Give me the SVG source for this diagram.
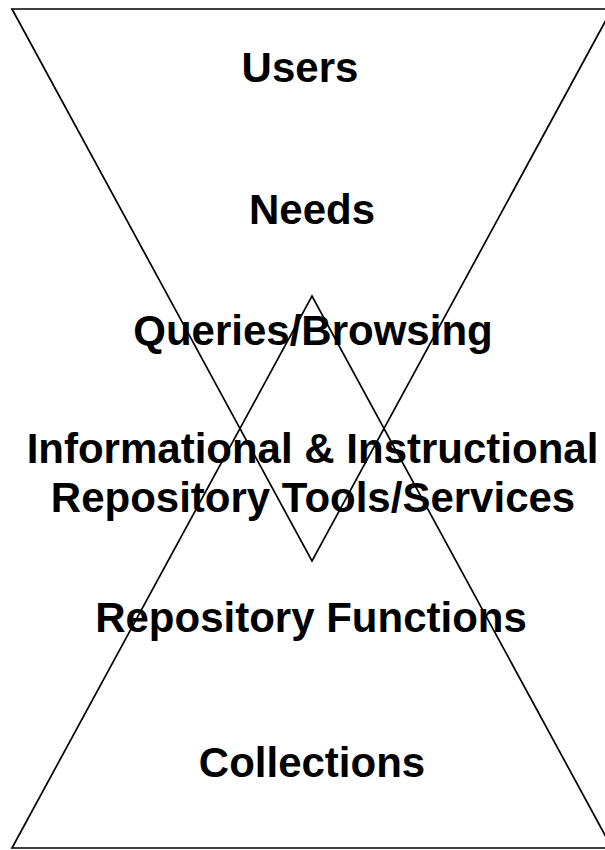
<svg xmlns="http://www.w3.org/2000/svg" width="605" height="850" viewBox="0 0 605 850">
<style>
.tri{fill:none;stroke:#000;stroke-width:1.7;stroke-linejoin:miter}
.lbl{font-family:"Liberation Sans",Arial,sans-serif;font-weight:bold;font-size:42px;fill:#000;text-anchor:middle}
</style>
<rect width="605" height="850" fill="#fff"/>
<g id="shapes">
<polygon id="top-triangle" class="tri" points="12,9 612,9 312,561"/>
<polygon id="bottom-triangle" class="tri" points="12,848 612,848 312,296"/>
</g>
<g id="users"><text class="lbl" x="300" y="82">Users</text></g>
<g id="needs"><text class="lbl" x="312" y="224">Needs</text></g>
<g id="queries"><text class="lbl" x="313" y="345">Queries/Browsing</text></g>
<g id="tools">
<text class="lbl" x="312.5" y="463">Informational &amp; Instructional</text>
<text class="lbl" x="313" y="512">Repository Tools/Services</text>
</g>
<g id="functions"><text class="lbl" x="311" y="632">Repository Functions</text></g>
<g id="collections"><text class="lbl" x="312" y="777">Collections</text></g>
</svg>
